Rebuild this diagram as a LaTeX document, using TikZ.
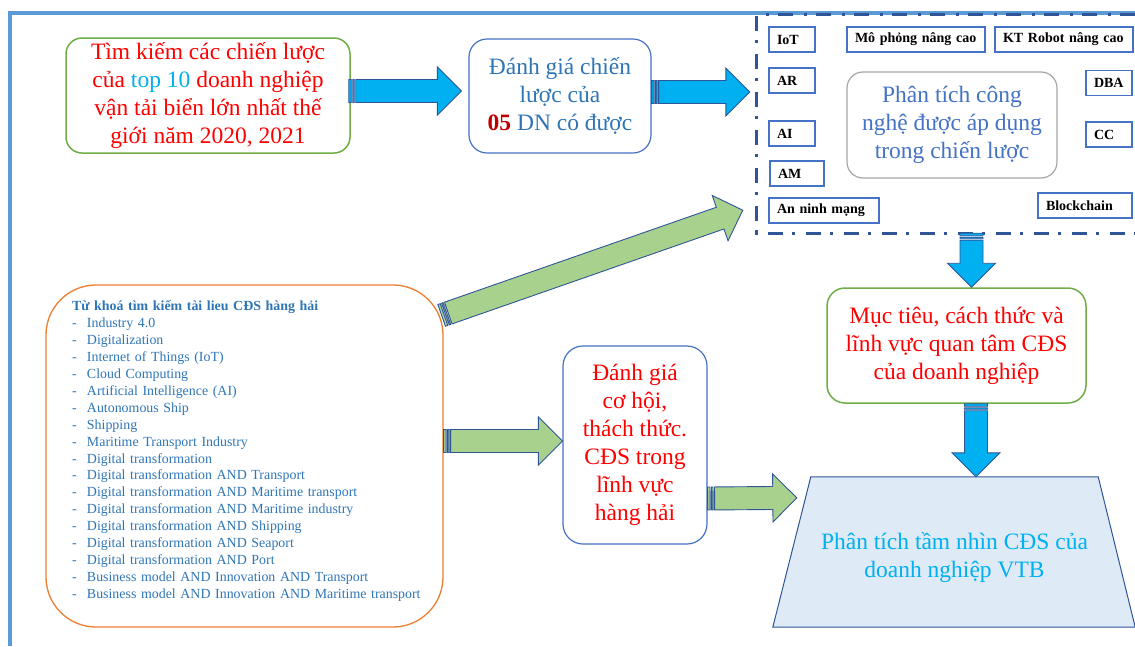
\documentclass[tikz,border=0pt]{standalone}
\usepackage{fontspec}
\setmainfont{Liberation Serif}
\usepackage{xcolor}

\definecolor{frameblue}{HTML}{5B9BD5}
\definecolor{arrowblue}{HTML}{00B0F0}
\definecolor{arrowgreen}{HTML}{A9D18E}
\definecolor{edgeblue}{HTML}{2F5597}
\definecolor{boxblue}{HTML}{4472C4}
\definecolor{boxgreen}{HTML}{70AD47}
\definecolor{boxorange}{HTML}{ED7D31}
\definecolor{boxgrey}{HTML}{A6A6A6}
\definecolor{textblue}{HTML}{2E75B6}
\definecolor{textred}{HTML}{FF0000}
\definecolor{darkred}{HTML}{C00000}
\definecolor{visionfill}{HTML}{DEEBF7}

\newcommand{\kw}[1]{\mbox{\makebox[15pt][l]{-}#1}}

\newdimen\bax \newdimen\bay \newdimen\bbx \newdimen\bby
\newcommand{\blockarrow}[3]{%
  \path (#2) coordinate (ba-s) (#3) coordinate (ba-e);
  \pgfextractx{\bax}{\pgfpointanchor{ba-s}{center}}%
  \pgfextracty{\bay}{\pgfpointanchor{ba-s}{center}}%
  \pgfextractx{\bbx}{\pgfpointanchor{ba-e}{center}}%
  \pgfextracty{\bby}{\pgfpointanchor{ba-e}{center}}%
  \pgfmathsetmacro{\baang}{atan2(\bby-\bay,\bbx-\bax)}%
  \pgfmathsetmacro{\balen}{veclen(\bbx-\bax,\bby-\bay)}%
  \draw[blockedge, fill=#1, shift={(ba-s)}, rotate=\baang]
    (0,-11.5) rectangle (2.5,11.5)
    (4,-11.5) rectangle (5.5,11.5)
    (7,-11.5) -- (\balen-24,-11.5) -- (\balen-24,-24) -- (\balen,0)
      -- (\balen-24,24) -- (\balen-24,11.5) -- (7,11.5) -- cycle;
}

\begin{document}
\begin{tikzpicture}[x=1pt, y=-1pt, line join=miter,
  bigtext/.style={font=\fontsize{23.5}{28}\selectfont, align=center},
  rbox/.style={draw, rounded corners=16, line width=1.5, bigtext},
  techbox/.style={draw=boxblue, line width=1.3, font=\bfseries\fontsize{14}{16}\selectfont,
    minimum height=25, inner xsep=8, text width=#1, align=left},
  techframe/.style={draw=edgeblue, line width=3, dash pattern=on 15pt off 9pt on 3pt off 11pt},
  blockedge/.style={draw=edgeblue, line width=0.9}]

\useasboundingbox (0,0) rectangle (1135,646);

% Outer frame
\draw[frameblue, line width=4] (10,646) -- (10,13) -- (1135,13);

% Search and assessment
\node[rbox, draw=boxgreen, text=textred, minimum width=284, minimum height=115] at (208,95.5) (search)
  {Tìm kiếm các chiến lược\\của \textcolor{arrowblue}{top 10} doanh nghiệp\\vận tải biển lớn nhất thế\\giới năm 2020, 2021};
\node[rbox, draw=boxblue, rounded corners=18, line width=1.2, text=textblue, minimum width=182, minimum height=114] at (560,96) (assess)
  {Đánh giá chiến\\lược của\\\textcolor{darkred}{\textbf{05}} DN có được};

% Technology frame
\node[minimum width=378, minimum height=218, inner sep=0] at (946,124) (tech) {};
\draw[techframe] (tech.north east) -- (tech.north west) -- (tech.south west) -- (tech.south east);

\foreach \name/\pos/\w/\txt in {iot/{792,39.5}/30/IoT, sim/{916,39.5}/122/Mô phỏng nâng cao,
    robot/{1064,39.5}/122/KT Robot nâng cao, ar/{792,80.5}/30/AR, ai/{792,133.5}/30/AI,
    am/{797,173.5}/38/AM, cyber/{824,210.5}/94/An ninh mạng, dba/{1109,83}/30/DBA,
    cc/{1109,134.5}/30/CC, chain/{1085,205.5}/78/Blockchain}
  \node[techbox=\w] at (\pos) (\name) {\txt};

\node[rbox, draw=boxgrey, line width=1.2, text=boxblue, minimum width=210, minimum height=106] at (952,125) (core)
  {Phân tích công\\nghệ được áp dụng\\trong chiến lược};

% Keywords
\node[draw=boxorange, line width=1.3, rounded corners=50, minimum width=397, minimum height=342,
  text width=345, inner xsep=26, align=left, text=textblue, font=\fontsize{13.9}{16.9}\selectfont] at (244.5,456) (keywords)
  {\textbf{Từ khoá tìm kiếm tài lieu CĐS hàng hải}\\
   \kw{Industry 4.0}\\
   \kw{Digitalization}\\
   \kw{Internet of Things (IoT)}\\
   \kw{Cloud Computing}\\
   \kw{Artificial Intelligence (AI)}\\
   \kw{Autonomous Ship}\\
   \kw{Shipping}\\
   \kw{Maritime Transport Industry}\\
   \kw{Digital transformation}\\
   \kw{Digital transformation AND Transport}\\
   \kw{Digital transformation AND Maritime transport}\\
   \kw{Digital transformation AND Maritime industry}\\
   \kw{Digital transformation AND Shipping}\\
   \kw{Digital transformation AND Seaport}\\
   \kw{Digital transformation AND Port}\\
   \kw{Business model AND Innovation AND Transport}\\
   \kw{Business model AND Innovation AND Maritime transport}\\[-4pt]\mbox{}};

% Challenges, goals, vision
\node[rbox, draw=boxblue, rounded corners=20, line width=1.2, text=textred, minimum width=144, minimum height=198] at (635,445) (challenge)
  {Đánh giá\\cơ hội,\\thách thức.\\CĐS trong\\lĩnh vực\\hàng hải};
\node[rbox, draw=boxgreen, rounded corners=18, text=textred, minimum width=259, minimum height=115] at (956.5,345.5) (goals)
  {Mục tiêu, cách thức và\\lĩnh vực quan tâm CĐS\\của doanh nghiệp};
\node[minimum width=287, minimum height=150, inner sep=0] at (954.5,552) (vision) {};
\draw[edgeblue, line width=1, fill=visionfill] (vision.north west) -- (vision.north east)
  -- ([xshift=37]vision.south east) -- ([xshift=-38]vision.south west) -- cycle;
\node[bigtext, text=arrowblue] at ([yshift=-6]vision.center) (visiontext)
  {Phân tích tầm nhìn CĐS của\\doanh nghiệp VTB};

% Arrows
\blockarrow{arrowblue}{[shift={(-2,-4.5)}]search.east}{[shift={(-7,-5)}]assess.west}
\blockarrow{arrowblue}{[shift={(0,-4)}]assess.east}{[shift={(-7,-32)}]tech.west}
\blockarrow{arrowgreen}{[shift={(-2,31)}]keywords.north east}{[shift={(-14,-23)}]tech.south west}
\blockarrow{arrowgreen}{[shift={(0,-15)}]keywords.east}{[shift={(0,-4)}]challenge.west}
\blockarrow{arrowgreen}{[shift={(0,53.5)}]challenge.east}{[shift={(-14,21)}]vision.north west}
\blockarrow{arrowblue}{[shift={(25.5,0)}]tech.south}{[shift={(15,0)}]goals.north}
\blockarrow{arrowblue}{[shift={(19.5,0)}]goals.south}{[shift={(21.5,0)}]vision.north}

\end{tikzpicture}
\end{document}
